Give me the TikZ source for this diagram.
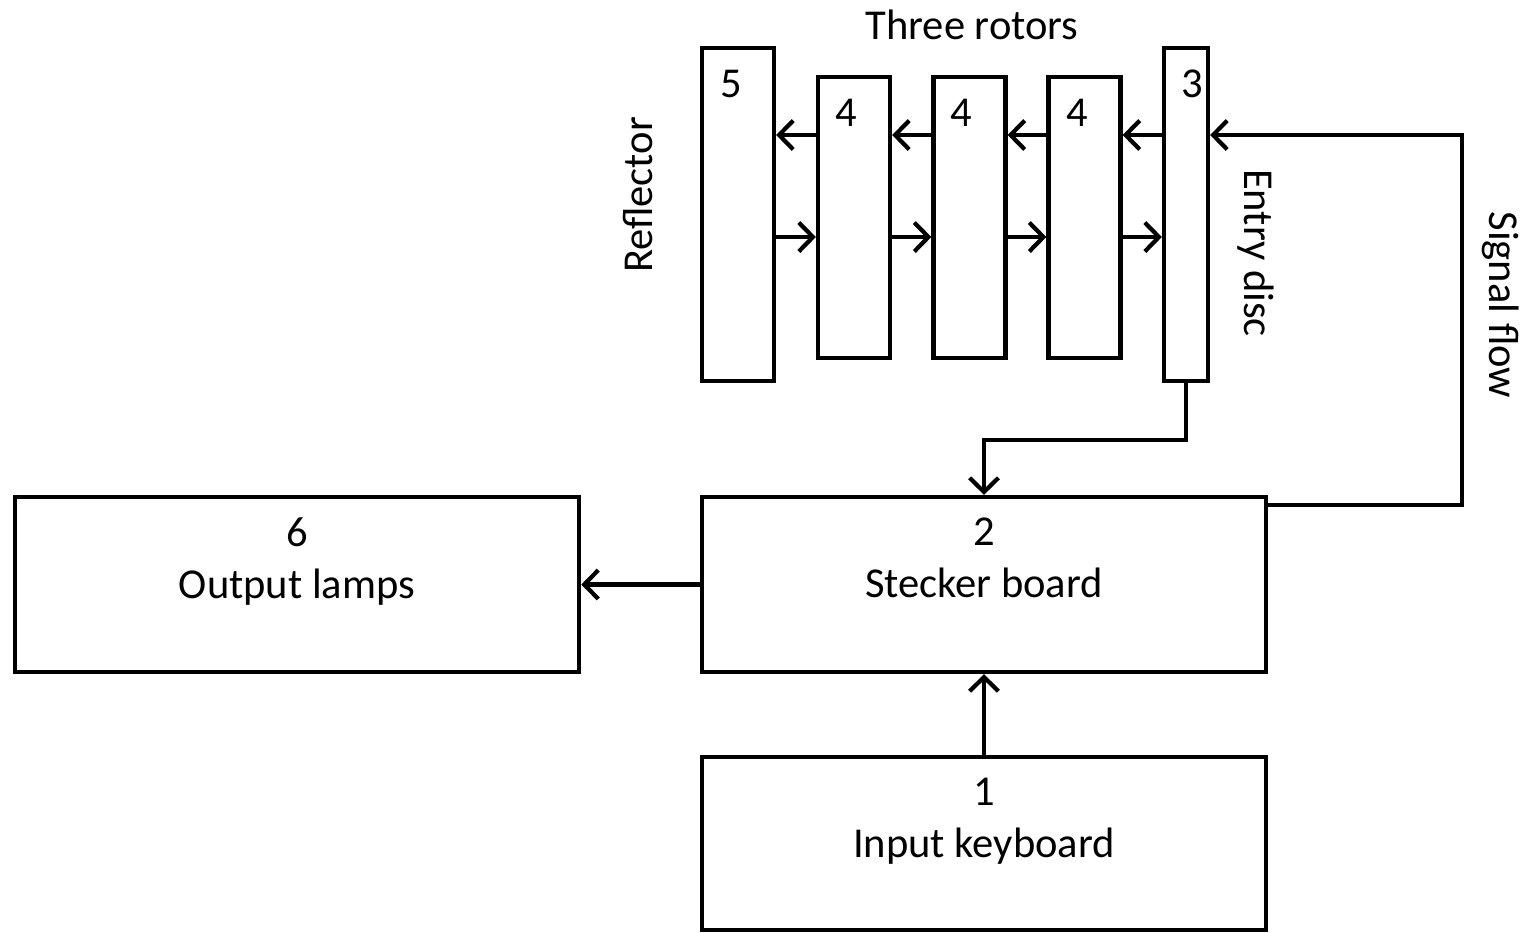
\documentclass[tikz,border=0pt]{standalone}
\usepackage{fontspec}
\setmainfont{Carlito}
\usetikzlibrary{arrows.meta}

\begin{document}
\begin{tikzpicture}[x=0.01cm, y=-0.01cm,
    blockBox/.style={draw, line width=1.2pt, inner sep=0pt, fill=white},
    tallBox/.style={blockBox, minimum width=0.72cm, minimum height=3.33cm},
    rotorBox/.style={blockBox, minimum width=0.72cm, minimum height=2.81cm},
    wideBox/.style={blockBox, minimum width=5.64cm, minimum height=1.75cm},
    labelText/.style={font=\fontsize{12.1}{14.8}\selectfont, inner sep=0pt, align=center},
    arrowStyle/.style={-{Straight Barb[length=4pt,width=8.2pt,line width=1.2pt]}, line width=1.2pt}
]
    \useasboundingbox (0,0) rectangle (1525,932);

    % rotor stack
    \node[tallBox] (refl) at (738, 214.5) {};
    \node[rotorBox] (rotA) at (854, 217.5) {};
    \node[rotorBox] (rotB) at (969.5, 217.5) {};
    \node[rotorBox] (rotC) at (1084.5, 217.5) {};
    \node[tallBox, minimum width=0.44cm] (entry) at (1186, 214.5) {};

    \node[labelText] (numRefl) at (731, 84) {5};
    \node[labelText] (numA) at (846, 113) {4};
    \node[labelText] (numB) at (961, 113) {4};
    \node[labelText] (numC) at (1077, 113) {4};
    \node[labelText] (numEntry) at (1192, 84) {3};

    \node[labelText] (rotorsTitle) at (972, 25) {Three rotors};
    \node[labelText, rotate=90] (reflTitle) at (638, 195) {Reflector};
    \node[labelText, rotate=-90] (entryTitle) at (1256, 253) {Entry disc};
    \node[labelText, rotate=-90] (flowTitle) at (1501, 305) {Signal flow};

    % lower blocks
    \node[wideBox] (lamps) at (297, 584.5) {};
    \node[wideBox] (board) at (984, 584.5) {};
    \node[wideBox, minimum height=1.73cm] (keys) at (984, 843.5) {};

    \node[labelText, anchor=north] (lampsText) at (297, 517) {6\\Output lamps};
    \node[labelText, anchor=north] (boardText) at (984, 517) {2\\Stecker board};
    \node[labelText, anchor=north] (keysText) at (984, 777) {1\\Input keyboard};

    % signal path
    \foreach \from/\to in {entry/rotC, rotC/rotB, rotB/rotA, rotA/refl}
        \draw[arrowStyle] (\from.west |- 0,135) -- (\to.east |- 0,135);
    \foreach \from/\to in {refl/rotA, rotA/rotB, rotB/rotC, rotC/entry}
        \draw[arrowStyle] (\from.east |- 0,237) -- (\to.west |- 0,237);

    \coordinate (flowLow) at (1462, 505);
    \coordinate (flowHigh) at (1462, 135);
    \draw[arrowStyle] (board.east |- flowLow) -- (flowLow) -- (flowHigh) -- (entry.east |- flowHigh);
    \draw[arrowStyle] (entry.south) -- ++(0, 57) -| (board.north);
    \draw[arrowStyle] (board.west) -- (lamps.east);
    \draw[arrowStyle] (keys.north) -- (board.south);
\end{tikzpicture}
\end{document}
